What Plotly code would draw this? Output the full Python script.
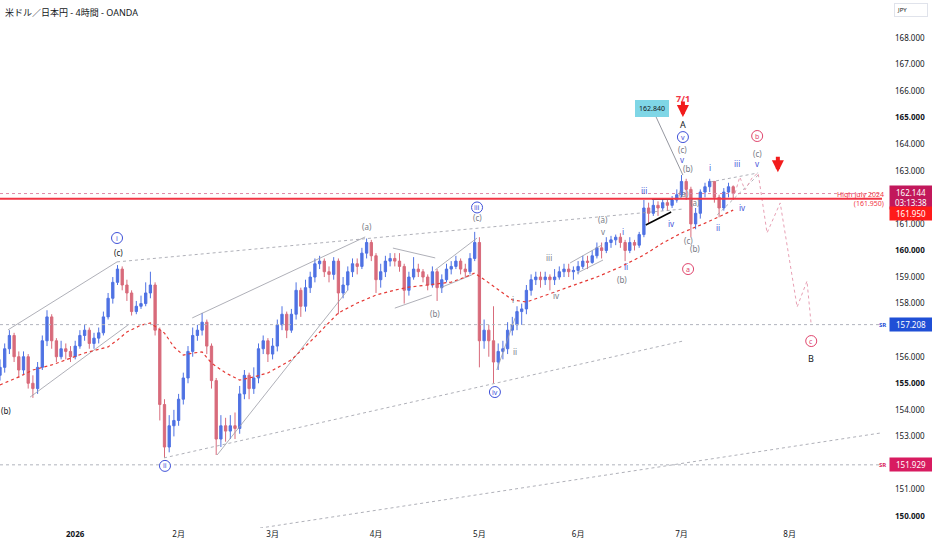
import pandas as pd
import plotly.graph_objects as go

# ---- price data: one bar per trading day ----
start_day = "2025-12-10"
first_open = 155.3
closes = [155.6, 156.3, 156.8, 156.0, 155.5, 156.0, 155.0, 154.8, 155.6, 156.6,
          157.5, 156.6, 156.0, 156.3, 156.2, 156.0, 156.4, 156.8, 157.0, 156.5,
          156.7, 156.9, 157.5, 158.2, 158.8, 159.3, 158.7, 158.4, 157.7, 157.9,
          158.0, 158.4, 158.7, 157.0, 154.2, 152.6, 153.4, 153.6, 154.4, 155.2,
          156.2, 156.8, 157.0, 157.3, 156.4, 155.1, 152.9, 153.4, 153.2, 153.4,
          153.3, 154.6, 155.3, 154.8, 155.2, 156.3, 156.6, 156.1, 156.4, 157.2,
          157.6, 157.0, 157.6, 158.5, 157.9, 158.6, 159.0, 159.5, 159.6, 159.2,
          159.1, 159.6, 158.4, 158.7, 159.2, 159.5, 159.4, 159.9, 160.3, 159.8,
          158.9, 159.2, 159.6, 159.7, 159.6, 159.4, 158.5, 159.0, 159.3, 159.2,
          159.0, 158.7, 159.2, 158.6, 158.9, 159.3, 159.4, 159.6, 159.3, 159.2,
          159.7, 160.3, 156.6, 157.0, 156.6, 155.8, 156.2, 156.3, 157.0, 157.2,
          157.7, 157.8, 158.5, 158.9, 159.0, 158.9, 159.0, 158.9, 159.0, 159.2,
          159.3, 159.2, 159.25, 159.4, 159.6, 159.55, 159.8, 160.1, 160.0, 160.3,
          160.4, 160.5, 160.3, 160.0, 160.3, 160.2, 160.6, 161.6, 161.4, 161.7,
          161.6, 161.8, 161.7, 161.9, 162.1, 162.6, 162.3, 161.0, 161.4, 162.2,
          162.4, 162.6, 162.0, 161.6, 162.2, 162.4, 162.144]
highs = [155.9, 156.5, 157.0, 156.9, 156.2, 156.2, 156.1, 155.3, 155.8, 156.8,
         157.75, 157.6, 156.7, 156.6, 156.5, 156.4, 156.6, 157.0, 157.2, 157.1,
         156.9, 157.1, 157.7, 158.4, 159.0, 159.45, 159.4, 158.9, 158.5, 158.1,
         158.3, 158.8, 159.2, 158.8, 157.1, 154.4, 153.8, 154.0, 154.6, 155.4,
         156.4, 157.1, 157.2, 157.65, 157.4, 156.5, 155.2, 153.8, 153.7, 153.8,
         153.9, 154.9, 155.5, 155.4, 155.6, 156.5, 156.8, 156.7, 156.7, 157.4,
         157.9, 157.7, 157.8, 158.8, 158.6, 158.9, 159.2, 159.7, 159.8, 159.7,
         159.4, 159.75, 159.7, 159.0, 159.4, 159.7, 159.7, 160.1, 160.45, 160.4,
         159.9, 159.5, 159.8, 159.9, 159.9, 159.9, 159.5, 159.2, 159.75, 159.5,
         159.3, 159.1, 159.4, 159.3, 159.1, 159.5, 159.6, 159.8, 159.7, 159.5,
         159.9, 160.7, 160.5, 157.4, 157.2, 157.9, 156.5, 156.6, 157.3, 157.5,
         157.9, 158.0, 158.7, 159.1, 159.2, 159.2, 159.2, 159.1, 159.3, 159.4,
         159.5, 159.5, 159.4, 159.6, 159.8, 159.8, 160.0, 160.3, 160.3, 160.5,
         160.55, 160.6, 160.65, 160.4, 160.5, 160.4, 160.7, 161.9, 161.8, 161.9,
         161.85, 161.95, 161.9, 162.05, 162.3, 162.84, 162.7, 162.4, 161.6, 162.3,
         162.55, 162.7, 162.6, 162.1, 162.35, 162.55, 162.45]
lows = [155.1, 155.4, 156.1, 155.8, 155.2, 155.3, 154.8, 154.45, 154.6, 155.5,
        156.4, 156.3, 155.8, 155.9, 155.9, 155.8, 155.9, 156.3, 156.6, 156.3,
        156.3, 156.5, 156.8, 157.4, 158.0, 158.7, 158.5, 158.1, 157.55, 157.6,
        157.8, 157.9, 158.2, 156.8, 153.6, 152.2, 152.4, 153.0, 153.4, 154.2,
        155.0, 156.0, 156.6, 156.8, 156.1, 154.8, 152.3, 152.6, 152.8, 152.9,
        152.9, 153.1, 154.4, 154.4, 154.6, 155.0, 156.1, 155.8, 155.9, 156.2,
        157.0, 156.7, 156.9, 157.4, 157.5, 157.7, 158.4, 158.8, 159.3, 159.0,
        158.8, 158.9, 157.6, 158.2, 158.5, 159.0, 159.1, 159.3, 159.7, 159.6,
        158.4, 158.6, 159.0, 159.4, 159.4, 159.2, 158.0, 158.3, 158.9, 159.0,
        158.8, 158.5, 158.6, 158.1, 158.4, 158.8, 159.1, 159.3, 159.1, 159.0,
        159.1, 159.6, 155.6, 156.3, 156.0, 155.0, 155.5, 155.9, 156.1, 156.8,
        157.0, 157.2, 157.6, 158.3, 158.7, 158.6, 158.7, 158.5, 158.7, 158.9,
        159.0, 159.0, 158.9, 159.1, 159.3, 159.3, 159.5, 159.7, 159.7, 159.9,
        160.1, 160.2, 160.1, 159.6, 159.9, 160.0, 160.1, 160.5, 161.0, 161.3,
        161.3, 161.5, 161.5, 161.6, 161.8, 162.0, 161.9, 160.5, 160.8, 161.2,
        162.0, 162.2, 161.8, 161.25, 161.5, 162.0, 161.9]
opens = [first_open] + closes[:-1]

# red dashed moving average (bar index, value)
ma_bars = [0, 4, 7, 11, 14, 18, 23, 25, 27, 30, 32, 35, 37, 39, 41, 43, 45, 48, 51, 54,
           57, 62, 67, 72, 76, 80, 84, 87, 91, 96, 99, 101, 104, 106, 109, 112, 115,
           121, 127, 132, 137, 141, 145, 150, 156]
ma_vals = [154.94, 155.24, 155.50, 155.69, 155.88, 156.14, 156.37, 156.63, 156.93, 157.19,
           157.27, 156.89, 156.37, 156.06, 156.14, 156.18, 155.76, 155.39, 155.12, 155.24,
           155.39, 155.88, 156.74, 157.65, 158.02, 158.32, 158.51, 158.62, 158.70, 158.81,
           159.00, 159.15, 158.78, 158.51, 158.14, 158.06, 158.25, 158.62, 159.00, 159.38,
           159.83, 160.28, 160.66, 161.03, 161.52]

# trend lines: (bar0, price0, bar1, price1, dotted)
trendlines = [
    (1.7, 157.01, 24.9, 159.57, False),
    (6.4, 154.48, 27.2, 157.19, False),
    (24.9, 159.57, 145.3, 161.56, True),
    (40.9, 157.46, 77.7, 160.51, False),
    (46.2, 152.30, 74.0, 158.51, False),
    (34.9, 152.19, 145.3, 156.59, True),
    (52.8, 149.48, 188.9, 153.17, True),
    (83.6, 160.09, 92.6, 159.72, False),
    (84.0, 157.83, 91.9, 158.32, False),
    (92.6, 159.27, 101.5, 160.47, False),
    (93.6, 158.59, 100.4, 159.08, False),
    (121.3, 159.53, 128.1, 160.21, False),
    (122.8, 159.15, 128.3, 159.64, False),
    (105.7, 155.50, 109.6, 157.46, False),
    (151.1, 162.58, 161.3, 162.92, True),
    (152.6, 161.34, 161.3, 162.84, True),
]
black_lines = [(137.4, 160.96, 142.8, 161.45), (138.7, 161.94, 143.2, 161.94)]

# projected path (pink dotted)
proj_bars = [156.4, 157.4, 158.5, 160.0, 161.3, 163.2, 166.0, 169.6, 171.7, 172.6]
proj_vals = [162.16, 162.77, 162.28, 162.73, 162.92, 160.66, 161.79, 157.87, 158.85, 157.19]

# levels
last_price = 162.144
high_july_2024 = 161.950
sr_upper = 157.208
sr_lower = 151.929

# wave labels: (text, bar, price, colour key, circled)
wave_labels = [
    ("(b)", 1.3, 153.96, "dark", False),
    ("i", 24.9, 160.47, "blue", True),
    ("(c)", 25.3, 159.94, "dark", False),
    ("ii", 35.1, 151.89, "blue", True),
    ("(a)", 78.1, 160.92, "gray", False),
    ("(b)", 92.6, 157.61, "gray", False),
    ("iii", 101.5, 161.62, "blue", True),
    ("(c)", 101.5, 161.24, "gray", False),
    ("iv", 105.3, 154.67, "blue", True),
    ("iii", 116.8, 159.75, "gray", False),
    ("iv", 118.5, 158.29, "gray", False),
    ("ii", 109.6, 156.18, "gray", False),
    ("i", 109.1, 158.14, "gray", False),
    ("v", 128.3, 160.70, "gray", False),
    ("(a)", 128.3, 161.15, "gray", False),
    ("i", 132.6, 160.70, "blue", False),
    ("ii", 133.2, 159.38, "blue", False),
    ("(b)", 132.3, 158.89, "gray", False),
    ("iii", 137.0, 162.24, "blue", False),
    ("iv", 142.8, 161.03, "blue", False),
    ("(a)", 145.5, 162.14, "gray", False),
    ("(a)", 147.9, 161.79, "gray", False),
    ("(c)", 146.4, 160.39, "gray", False),
    ("(b)", 147.9, 160.09, "gray", False),
    ("a", 146.4, 159.30, "pink", True),
    ("(b)", 146.4, 163.07, "gray", False),
    ("v", 145.3, 163.41, "blue", False),
    ("(c)", 145.3, 163.82, "gray", False),
    ("v", 145.3, 164.27, "blue", True),
    ("A", 145.3, 164.76, "dark", False),
    ("i", 151.1, 163.14, "blue", False),
    ("iii", 156.8, 163.29, "blue", False),
    ("(c)", 161.1, 163.67, "gray", False),
    ("v", 161.1, 163.29, "blue", False),
    ("b", 161.1, 164.31, "pink", True),
    ("ii", 152.8, 160.85, "blue", False),
    ("iv", 157.9, 161.60, "blue", False),
    ("c", 172.6, 156.59, "pink", True),
    ("B", 172.6, 155.95, "dark", False),
]

price_ticks = list(range(150, 169))
hidden_ticks = [152, 157, 162]   # covered by the price boxes on the scale
month_names = {1: "2026", 2: "2月", 3: "3月", 4: "4月", 5: "5月", 6: "6月", 7: "7月", 8: "8月"}

# ---- build ----
days = pd.bdate_range(start_day, "2026-09-30")
bars = list(range(len(closes)))

tickvals, ticktext = [], []
prev_month = days[0].month
for i, d in enumerate(days):
    if d.month != prev_month and d.month in month_names and d.year == 2026:
        tickvals.append(i)
        ticktext.append("<b>2026</b>" if d.month == 1 else month_names[d.month])
    prev_month = d.month

COL = {"blue": "#3f51d8", "gray": "#787b86", "dark": "#131722", "pink": "#e0466e"}
FONT = "Noto Sans, Noto Sans CJK JP, sans-serif"

fig = go.Figure()

for b0, p0, b1, p1, dotted in trendlines:
    fig.add_trace(go.Scatter(x=[b0, b1], y=[p0, p1], mode="lines", hoverinfo="skip",
                             line=dict(color="#9a9ca6", width=0.8, dash="dot" if dotted else "solid")))
for b0, p0, b1, p1 in black_lines:
    fig.add_trace(go.Scatter(x=[b0, b1], y=[p0, p1], mode="lines", hoverinfo="skip",
                             line=dict(color="#000000", width=1.5)))

fig.add_trace(go.Scatter(x=ma_bars, y=ma_vals, mode="lines", hoverinfo="skip",
                         line=dict(color="#e53935", width=1.2, dash="3px,3px")))

fig.add_trace(go.Candlestick(
    x=bars, open=opens, high=highs, low=lows, close=closes,
    increasing=dict(line=dict(color="#4f72e3", width=1), fillcolor="#4f72e3"),
    decreasing=dict(line=dict(color="#d86b7b", width=1), fillcolor="#d86b7b"),
    whiskerwidth=0,
))

fig.add_trace(go.Scatter(x=proj_bars, y=proj_vals, mode="lines", hoverinfo="skip",
                         line=dict(color="#e8a0b4", width=1, dash="dot")))

# horizontal levels
fig.add_hline(y=sr_upper, line=dict(color="#b0b3bd", width=1, dash="dot"))
fig.add_hline(y=sr_lower, line=dict(color="#b0b3bd", width=1, dash="dot"))
fig.add_hline(y=last_price, line=dict(color="#e08aa8", width=1, dash="dot"))
fig.add_hline(y=high_july_2024, line=dict(color="#f23645", width=2))

# wave labels
for text, b, p, c, circled in wave_labels:
    col = COL[c]
    if circled:
        fig.add_shape(type="circle", xref="x", yref="y", xsizemode="pixel", ysizemode="pixel",
                      xanchor=b, yanchor=p, x0=-5.5, x1=5.5, y0=-5.5, y1=5.5,
                      line=dict(color=col, width=1), fillcolor="rgba(255,255,255,0.9)")
        fig.add_annotation(x=b, y=p, text=text, showarrow=False,
                           font=dict(size=7, color=col, family=FONT))
    else:
        size = 9 if text in ("A", "B") else 8
        fig.add_annotation(x=b, y=p, text=text, showarrow=False,
                           font=dict(size=size, color=col, family=FONT))

# peak callout
fig.add_trace(go.Scatter(x=[139.4, 145.3], y=[165.10, 162.84], mode="lines", hoverinfo="skip",
                         line=dict(color="#787b86", width=0.8)))
fig.add_annotation(x=138.7, y=165.33, text="162.840", showarrow=False,
                   bgcolor="#7fd6e6", bordercolor="#7fd6e6", borderpad=3,
                   font=dict(size=7, color="#131722", family=FONT))
fig.add_annotation(x=145.3, y=165.72, text="<b>7/1</b>", showarrow=False,
                   font=dict(size=9, color="#f23645", family=FONT))
for b, p in [(145.3, 165.03), (165.5, 162.95)]:
    fig.add_annotation(x=b, y=p, ax=0, ay=-17, showarrow=True, arrowhead=2,
                       arrowsize=0.6, arrowwidth=4, arrowcolor="#f21c1c", text="")

# right side labels
fig.add_annotation(xref="paper", x=1, xanchor="right", xshift=4, y=high_july_2024, yanchor="middle",
                   text="High July 2024<br>(161.950)", align="right", showarrow=False,
                   font=dict(size=7, color="#f23645", family=FONT))
price_boxes = [
    (f"{last_price:.3f}<br>03:13:38", last_price, -4, "#c2185b"),
    (f"{high_july_2024:.3f}", high_july_2024, -15, "#ff1a1a"),
    (f"{sr_upper:.3f}", sr_upper, 0, "#1f4fd6"),
    (f"{sr_lower:.3f}", sr_lower, 0, "#d81b60"),
]
for txt, p, ys, bg in price_boxes:
    fig.add_annotation(xref="paper", x=1, xanchor="left", xshift=7, y=p, yshift=ys,
                       yanchor="middle", text=txt, showarrow=False, bgcolor=bg,
                       borderpad=1, width=40, align="center",
                       font=dict(size=8, color="white", family=FONT))
for p, col in [(sr_upper, "#1f4fd6"), (sr_lower, "#d81b60")]:
    fig.add_annotation(xref="paper", x=1, xanchor="right", xshift=6, y=p, yanchor="middle",
                       text="<b>SR</b>", showarrow=False, font=dict(size=6, color=col, family=FONT))

fig.add_annotation(xref="paper", yref="paper", x=0, y=1, xanchor="left", yanchor="top",
                   xshift=3, yshift=-4, text="米ドル／日本円 - 4時間 - OANDA", showarrow=False,
                   font=dict(size=9, color="#131722", family=FONT))
fig.add_annotation(xref="paper", yref="paper", x=1, y=1, xanchor="left", yanchor="top",
                   xshift=12, yshift=-3, text="JPY", showarrow=False, borderpad=2,
                   bordercolor="#e0e3eb", borderwidth=1, width=28, align="left",
                   font=dict(size=6, color="#131722", family=FONT))

ticklabels = []
for t in price_ticks:
    if t in hidden_ticks:
        ticklabels.append("")
    elif t % 5 == 0:
        ticklabels.append(f"<b>{t}.000</b>")
    else:
        ticklabels.append(f"{t}.000")

fig.update_layout(
    width=932, height=550,
    margin=dict(l=0, r=50, t=0, b=22),
    paper_bgcolor="white", plot_bgcolor="white",
    showlegend=False,
    font=dict(family=FONT, color="#131722"),
    xaxis=dict(range=[0, 187.66], tickvals=tickvals, ticktext=ticktext,
               showgrid=False, zeroline=False, showline=False, ticks="",
               rangeslider=dict(visible=False), tickfont=dict(size=8)),
    yaxis=dict(side="right", range=[149.551, 169.431], tickvals=price_ticks, ticktext=ticklabels,
               showgrid=False, zeroline=False, showline=False, ticks="",
               ticklabelstandoff=12, tickfont=dict(size=8)),
)

fig.write_html("out.html", config={"displayModeBar": False},
               post_script="document.body.style.margin='0';")
